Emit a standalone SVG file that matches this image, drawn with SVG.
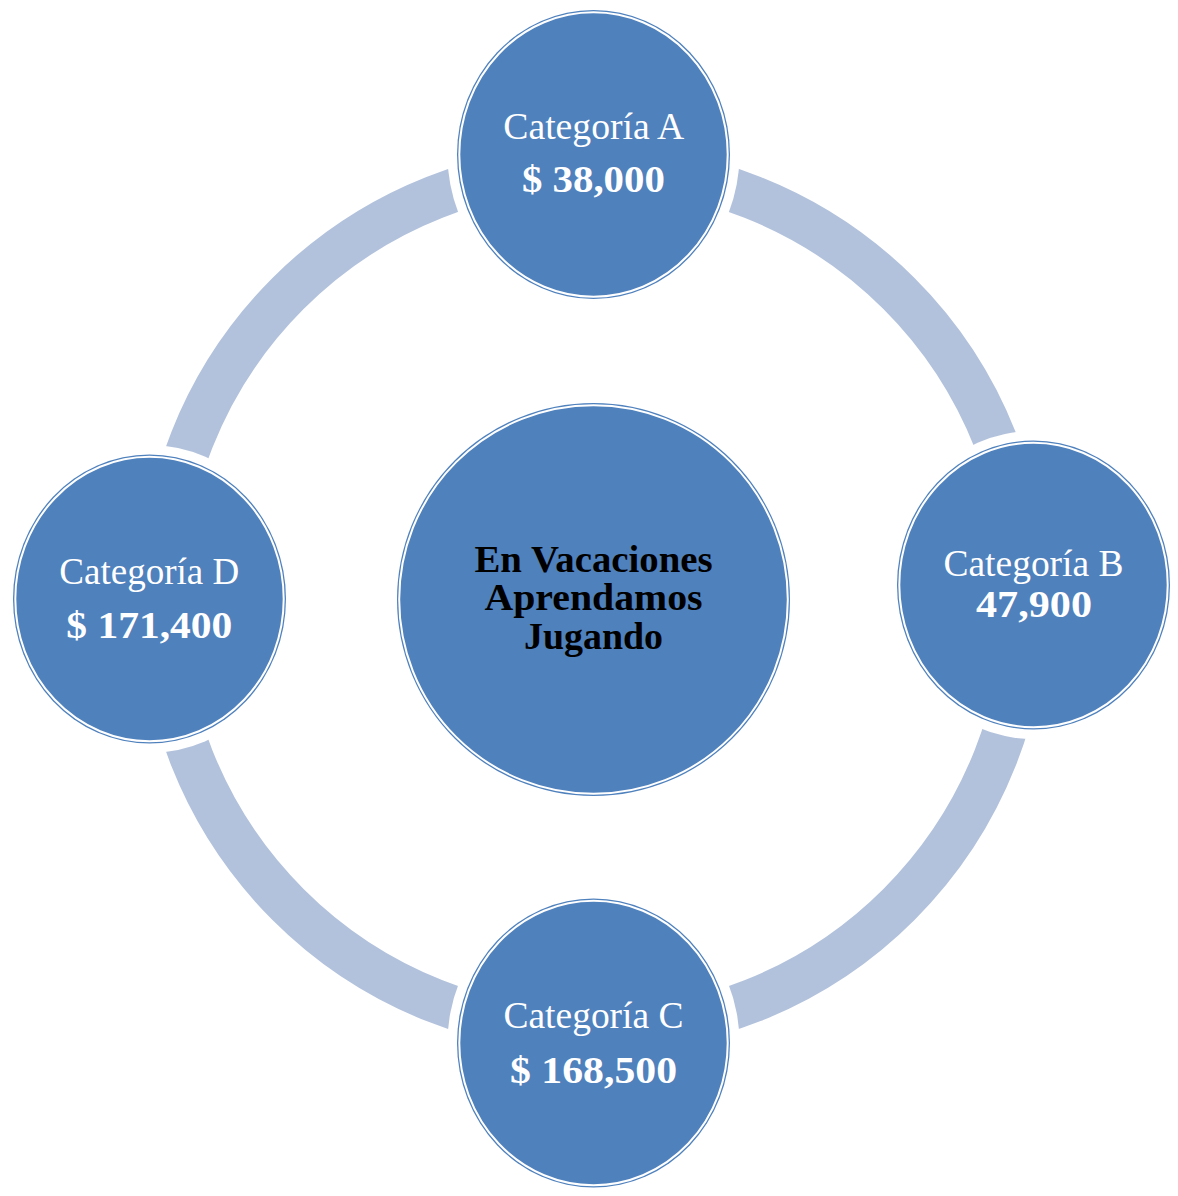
<svg xmlns="http://www.w3.org/2000/svg" width="1178" height="1196" viewBox="0 0 1178 1196">
<style>
.arc{fill:none;stroke:#B2C2DC;stroke-width:44}
.node{fill:#4F81BD}
.inner{fill:none;stroke:#FFFFFF;stroke-width:2}
.lbl{font-family:"Liberation Serif","Times New Roman",serif;font-size:37px;fill:#FFFFFF;text-anchor:middle}
.val{font-family:"Liberation Serif","Times New Roman",serif;font-size:37px;font-weight:bold;fill:#FFFFFF;text-anchor:middle}
.ctr{font-family:"Liberation Serif","Times New Roman",serif;font-size:38px;font-weight:bold;fill:#000000;text-anchor:middle}
</style>
<defs>
<mask id="gaps" maskUnits="userSpaceOnUse" x="0" y="0" width="1178" height="1196">
<rect x="0" y="0" width="1178" height="1196" fill="#FFFFFF"/>
<ellipse cx="593.5" cy="154.5" rx="146" ry="154" fill="#000000"/>
<ellipse cx="1033.5" cy="585" rx="146" ry="154" fill="#000000"/>
<ellipse cx="593.5" cy="1043" rx="146" ry="154" fill="#000000"/>
<ellipse cx="149.5" cy="599" rx="146" ry="154" fill="#000000"/>
</mask>
</defs>
<rect x="0" y="0" width="1178" height="1196" fill="#FFFFFF"/>
<g id="connectors" mask="url(#gaps)">
<path class="arc" d="M593.5,167 A432,432 0 0 1 1025.5,599"/>
<path class="arc" d="M1025.5,599 A432,432 0 0 1 593.5,1031"/>
<path class="arc" d="M593.5,1031 A432,432 0 0 1 161.5,599"/>
<path class="arc" d="M161.5,599 A432,432 0 0 1 593.5,167"/>
</g>
<g id="center">
<circle class="node" cx="593.5" cy="599.5" r="196.5"/>
<circle class="inner" cx="593.5" cy="599.5" r="194.3"/>
<text class="ctr" x="593.5" y="571.5" textLength="238" lengthAdjust="spacingAndGlyphs">En Vacaciones</text>
<text class="ctr" x="593.5" y="610" textLength="218" lengthAdjust="spacingAndGlyphs">Aprendamos</text>
<text class="ctr" x="593.5" y="648.5" textLength="139" lengthAdjust="spacingAndGlyphs">Jugando</text>
</g>
<g id="nodeA">
<ellipse class="node" cx="593.5" cy="154.5" rx="136.5" ry="144.5"/>
<ellipse class="inner" cx="593.5" cy="154.5" rx="134.2" ry="142.2"/>
<text class="lbl" x="593.8" y="139" textLength="181" lengthAdjust="spacingAndGlyphs">Categoría A</text>
<text class="val" x="593.4" y="191.5" textLength="143" lengthAdjust="spacingAndGlyphs">$ 38,000</text>
</g>
<g id="nodeB">
<ellipse class="node" cx="1033.5" cy="585" rx="136.5" ry="144.5"/>
<ellipse class="inner" cx="1033.5" cy="585" rx="134.2" ry="142.2"/>
<text class="lbl" x="1033.5" y="576" textLength="180" lengthAdjust="spacingAndGlyphs">Categoría B</text>
<text class="val" x="1034" y="616.5" textLength="116" lengthAdjust="spacingAndGlyphs">47,900</text>
</g>
<g id="nodeC">
<ellipse class="node" cx="593.5" cy="1043" rx="136.5" ry="144.5"/>
<ellipse class="inner" cx="593.5" cy="1043" rx="134.2" ry="142.2"/>
<text class="lbl" x="593.5" y="1027.5" textLength="180" lengthAdjust="spacingAndGlyphs">Categoría C</text>
<text class="val" x="593.5" y="1082.5" textLength="167" lengthAdjust="spacingAndGlyphs">$ 168,500</text>
</g>
<g id="nodeD">
<ellipse class="node" cx="149.5" cy="599" rx="136.5" ry="144.5"/>
<ellipse class="inner" cx="149.5" cy="599" rx="134.2" ry="142.2"/>
<text class="lbl" x="149.3" y="583.5" textLength="180" lengthAdjust="spacingAndGlyphs">Categoría D</text>
<text class="val" x="149.3" y="638" textLength="166" lengthAdjust="spacingAndGlyphs">$ 171,400</text>
</g>
</svg>
